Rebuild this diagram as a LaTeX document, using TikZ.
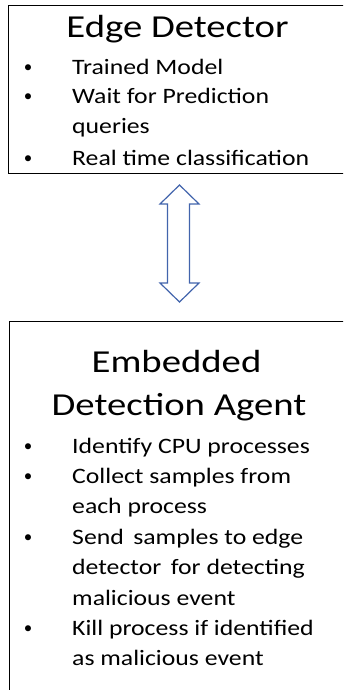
\documentclass[tikz,border=0pt]{standalone}
\usepackage{fontspec}
\setmainfont{Carlito}
\newfontfamily\headfont[FakeStretch=1.21]{Carlito}
\newfontfamily\entryfont[FakeStretch=1.17]{Carlito}
\definecolor{arrowblue}{RGB}{66,100,172}
\begin{document}
\begin{tikzpicture}[x=1pt,y=-1pt,
  frame/.style={draw=black, line width=1.3pt, rectangle, inner sep=0pt, anchor=north west},
  heading/.style={anchor=base, inner sep=0pt, font=\headfont\fontsize{32}{38}\selectfont},
  entry/.style={anchor=base west, inner sep=0pt, font=\entryfont\fontsize{22}{30}\selectfont},
  bulletmark/.style={anchor=base, inner sep=0pt, font=\fontsize{17}{30}\selectfont},
]
\useasboundingbox (0,0) rectangle (343,690);
\clip (0,0) rectangle (343,690);

% the two panels (their right and lower sides run past the page edge)
\node[frame, minimum width=345pt, minimum height=168pt] (edgebox) at (8,5) {};
\node[frame, minimum width=345pt, minimum height=390pt] (agentbox) at (9,321) {};

% Edge Detector panel
\node[heading] (edgetitle) at (177.5,37.5) {Edge Detector};
\node[bulletmark] (eb1) at (28,73) {•};
\node[entry] (e1) at (72,75) {Trained Model};
\node[bulletmark] (eb2) at (28,102) {•};
\node[entry] (e2a) at (72,104) {Wait for Prediction};
\node[entry] (e2b) at (72,133.5) {queries};
\node[bulletmark] (eb3) at (28,163) {•};
\node[entry] (e3) at (72,165) {Real time classification};

% Embedded Detection Agent panel
\node[heading] (agenttitle1) at (176.5,372) {Embedded};
\node[heading] (agenttitle2) at (179,415) {Detection Agent};
\node[bulletmark] (ab1) at (28,451) {•};
\node[entry] (a1) at (72,453) {Identify CPU processes};
\node[bulletmark] (ab2) at (28,481.4) {•};
\node[entry] (a2a) at (72,483.4) {Collect samples from};
\node[entry] (a2b) at (72,513.8) {each process};
\node[bulletmark] (ab3) at (28,542.2) {•};
\node[entry] (a3a) at (72,544.2) {Send\ \,samples to edge};
\node[entry] (a3b) at (72,574.6) {detector\ \,for detecting};
\node[entry] (a3c) at (72,605) {malicious event};
\node[bulletmark] (ab4) at (28,633.4) {•};
\node[entry] (a4a) at (72,635.4) {Kill process if identified};
\node[entry] (a4b) at (72,665.8) {as malicious event};

% hollow two-way arrow between the panels
\draw[arrowblue, line width=1.2pt, line join=miter, fill=white]
  (179.5,185) -- (199,204) -- (189.5,204) -- (189.5,283) -- (199,283)
  -- (179.5,302) -- (160,283) -- (167.5,283) -- (167.5,204) -- (160,204) -- cycle;
\end{tikzpicture}
\end{document}
